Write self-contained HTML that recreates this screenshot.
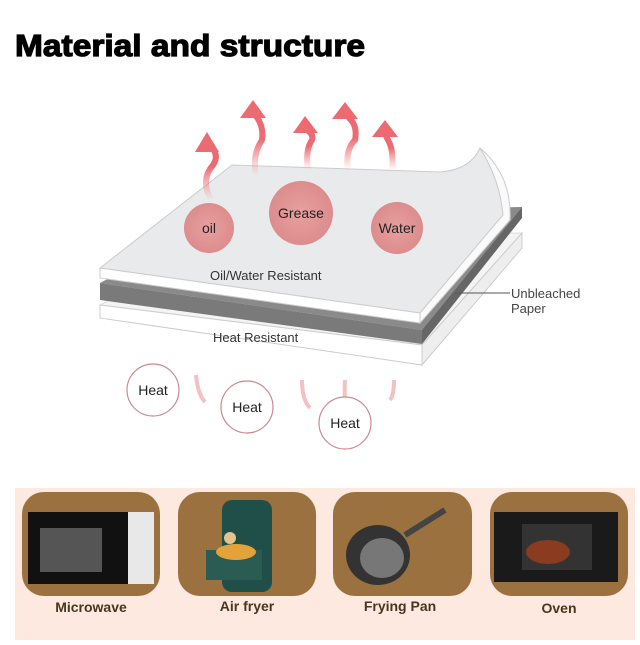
<!DOCTYPE html>
<html><head><meta charset="utf-8"><style>
body{margin:0;width:640px;height:640px;background:#fff;overflow:hidden;font-family:"Liberation Sans",sans-serif}
</style></head><body>
<svg width="640" height="640" viewBox="0 0 640 640" xmlns="http://www.w3.org/2000/svg">
<defs>
<linearGradient id="ar" x1="0" y1="1" x2="0" y2="0"><stop offset="0" stop-color="#f08080" stop-opacity="0"/><stop offset="0.6" stop-color="#ec6a72"/></linearGradient>
<radialGradient id="dot"><stop offset="0" stop-color="#e8a0a0"/><stop offset="1" stop-color="#dc8c8c"/></radialGradient>
</defs>
<text x="15" y="56" font-family="Liberation Sans,sans-serif" font-weight="bold" font-size="31" fill="#000" stroke="#000" stroke-width="1.2" textLength="350" lengthAdjust="spacingAndGlyphs">Material and structure</text>
<!-- bottom layer -->
<polygon points="100,305 232,235 522,233 422,345" fill="#f4f4f4" stroke="#ddd"/>
<polygon points="100,305 422,345 422,365 100,318" fill="#fff" stroke="#ccc"/>
<polygon points="422,345 522,233 522,248 422,365" fill="#eee" stroke="#ccc"/>
<!-- gray layer -->
<polygon points="100,283 232,212 522,207 422,330" fill="#8a8a8a"/>
<polygon points="100,283 422,330 422,344 100,300" fill="#7a7a7a"/>
<polygon points="422,330 522,207 522,218 422,344" fill="#666"/>
<!-- top sheet -->
<path d="M100,268 L232,165 L440,172 Q470,170 480,148 Q500,180 503,215 L420,313 Z" fill="#e9eaec" stroke="#ccc"/>
<path d="M100,268 L420,313 L420,323 L100,278 Z" fill="#fff" stroke="#ccc"/>
<path d="M420,313 L503,215 Q500,180 480,148 Q512,175 510,220 L420,323 Z" fill="#fafafa" stroke="#ccc"/>
<text x="210" y="280" font-size="13" fill="#333">Oil/Water Resistant</text>
<text x="213" y="342" font-size="13" fill="#333">Heat Resistant</text>
<line x1="455" y1="293" x2="510" y2="293" stroke="#555"/>
<text x="511" y="298" font-size="13" fill="#444">Unbleached</text>
<text x="511" y="313" font-size="13" fill="#444">Paper</text>
<!-- arrows -->
<g fill="none" stroke="url(#ar)" stroke-width="6">
<path d="M211,200 Q200,180 213,165 Q220,155 210,145"/>
<path d="M256,175 Q252,155 262,140 Q264,125 255,115"/>
<path d="M308,170 Q305,150 312,140 Q314,135 307,130"/>
<path d="M348,170 Q345,150 355,140 Q358,125 348,117"/>
<path d="M392,170 Q394,150 388,140 Q385,135 387,133"/>
</g>
<g fill="#ec6a72">
<polygon points="207,132 195,152 219,152"/>
<polygon points="253,100 240,118 266,118"/>
<polygon points="305,116 293,133 318,133"/>
<polygon points="345,102 332,119 358,119"/>
<polygon points="385,120 372,137 398,137"/>
</g>
<circle cx="209" cy="228" r="25" fill="url(#dot)"/>
<circle cx="301" cy="213" r="32" fill="url(#dot)"/>
<circle cx="397" cy="228" r="26" fill="url(#dot)"/>
<text x="209" y="233" font-size="14" fill="#222" text-anchor="middle">oil</text>
<text x="301" y="218" font-size="14" fill="#222" text-anchor="middle">Grease</text>
<text x="397" y="233" font-size="14" fill="#222" text-anchor="middle">Water</text>
<!-- heat -->
<g fill="none" stroke="#f3c0c6" stroke-width="4">
<path d="M196,375 Q198,395 205,402"/><path d="M302,380 Q302,400 310,408"/>
<path d="M345,380 Q344,395 346,405"/><path d="M394,380 Q394,395 390,400"/>
</g>
<g fill="#fff" stroke="#c98a90" stroke-width="1.2">
<circle cx="153" cy="390" r="26"/><circle cx="247" cy="407" r="26"/><circle cx="345" cy="423" r="26"/>
</g>
<g font-size="14" fill="#222" text-anchor="middle">
<text x="153" y="395">Heat</text><text x="247" y="412">Heat</text><text x="345" y="428">Heat</text>
</g>
<!-- bottom -->
<rect x="15" y="488" width="620" height="152" fill="#fde9df"/>
<g fill="#9b713f">
<rect x="22" y="492" width="138" height="104" rx="22"/>
<rect x="178" y="492" width="138" height="104" rx="22"/>
<rect x="333" y="492" width="139" height="104" rx="22"/>
<rect x="490" y="492" width="138" height="104" rx="22"/>
</g>
<!-- microwave -->
<rect x="28" y="512" width="126" height="72" fill="#111"/><rect x="128" y="512" width="26" height="72" fill="#e8e8e8"/>
<rect x="40" y="528" width="62" height="44" fill="#555"/>
<!-- air fryer -->
<rect x="222" y="500" width="50" height="92" rx="10" fill="#1f4f48"/>
<rect x="206" y="550" width="56" height="30" fill="#2a5c53"/><circle cx="230" cy="538" r="6" fill="#e4c48c"/>
<ellipse cx="236" cy="552" rx="20" ry="8" fill="#e3a23a"/>
<!-- pan -->
<ellipse cx="378" cy="555" rx="32" ry="30" fill="#333"/><ellipse cx="382" cy="558" rx="22" ry="20" fill="#777"/>
<line x1="405" y1="535" x2="445" y2="510" stroke="#444" stroke-width="6"/>
<!-- oven -->
<rect x="494" y="512" width="124" height="70" fill="#1a1a1a"/><rect x="522" y="524" width="70" height="46" fill="#333"/>
<ellipse cx="548" cy="552" rx="22" ry="12" fill="#8a3b20"/>
<g font-size="14" font-weight="bold" fill="#4a3520" text-anchor="middle">
<text x="91" y="612">Microwave</text><text x="247" y="611">Air fryer</text><text x="400" y="611">Frying Pan</text><text x="559" y="613">Oven</text>
</g>
</svg>
</body></html>
